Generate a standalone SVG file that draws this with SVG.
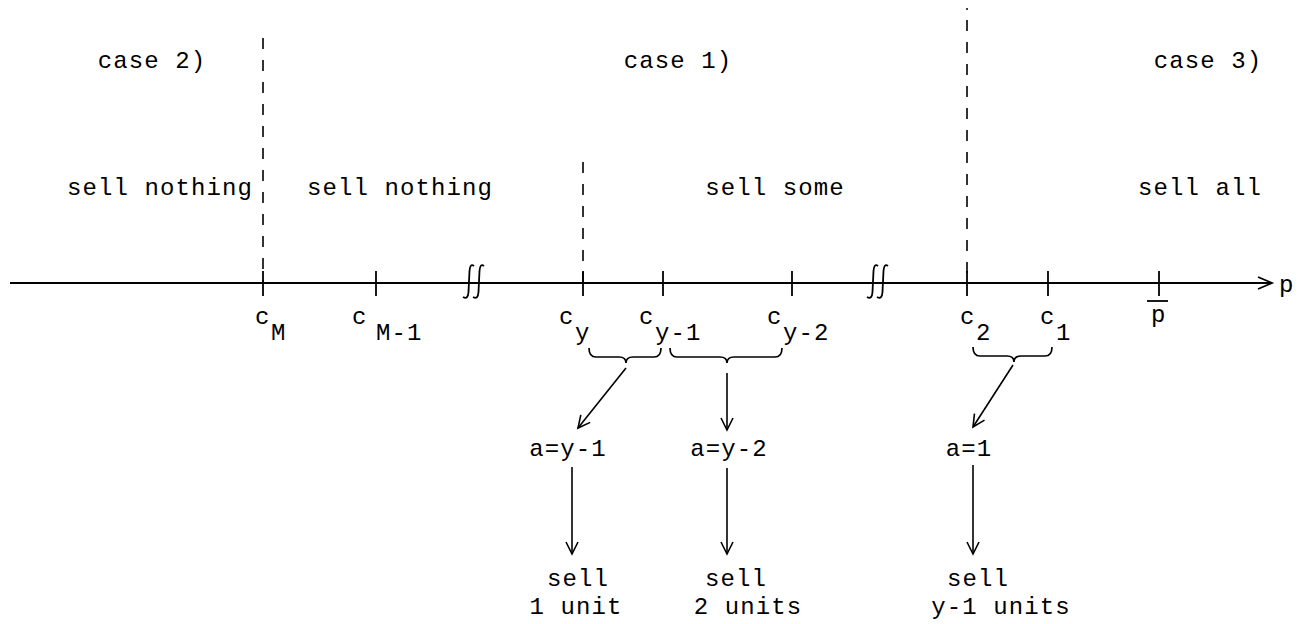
<svg xmlns="http://www.w3.org/2000/svg" width="1302" height="624" viewBox="0 0 1302 624">
<defs>
<style>
text{font-family:"Liberation Mono","DejaVu Sans Mono",monospace;font-size:24px;fill:#000;letter-spacing:1.1px}
.m{text-anchor:middle}
.ln{stroke:#000;stroke-width:1.8;fill:none}
.dash{stroke:#000;stroke-width:1.6;stroke-dasharray:11 11;fill:none}
.brace{stroke:#000;stroke-width:1.7;fill:none}
.arr{stroke:#000;stroke-width:1.6;fill:none;marker-end:url(#ah)}
</style>
<marker id="ah" markerUnits="userSpaceOnUse" markerWidth="16" markerHeight="16" refX="13" refY="7" orient="auto" viewBox="0 0 16 14">
<path d="M1,1 L13,7 L1,13" fill="none" stroke="#000" stroke-width="1.6"/>
</marker>
</defs>
<rect width="1302" height="624" fill="#fff"/>

<g id="dividers">
<line class="dash" x1="263" y1="38" x2="263" y2="283"/>
<line class="dash" x1="583" y1="162" x2="583" y2="283"/>
<line class="dash" x1="967" y1="20" x2="967" y2="283"/>
<circle cx="967" cy="9" r="1" fill="#000"/>
</g>

<g id="axis">
<line class="ln" x1="10" y1="283" x2="1272" y2="283"/>
<path class="ln" d="M1258,277 L1272,283 L1258,289"/>
<g id="ticks">
<line class="ln" x1="263" y1="271" x2="263" y2="296"/>
<line class="ln" x1="376" y1="271" x2="376" y2="296"/>
<line class="ln" x1="583" y1="271" x2="583" y2="296"/>
<line class="ln" x1="663" y1="271" x2="663" y2="296"/>
<line class="ln" x1="792" y1="271" x2="792" y2="296"/>
<line class="ln" x1="967" y1="271" x2="967" y2="296"/>
<line class="ln" x1="1048" y1="271" x2="1048" y2="296"/>
<line class="ln" x1="1159" y1="271" x2="1159" y2="296"/>
</g>
<g id="breaks">
<path class="ln" d="M474,266 Q470,263 469.5,271 L468.5,292 Q468,300 463,297"/>
<path class="ln" d="M484,266 Q480,263 479.5,271 L478.5,292 Q478,300 473,297"/>
<path class="ln" d="M878,266 Q874,263 873.5,271 L872.5,292 Q872,300 867,297"/>
<path class="ln" d="M888,266 Q884,263 883.5,271 L882.5,292 Q882,300 877,297"/>
</g>
<text id="axis-label" x="1279" y="292">p</text>
</g>

<g id="case2"><text class="m" x="152" y="68">case 2)</text></g>
<g id="case1"><text class="m" x="678" y="68">case 1)</text></g>
<g id="case3"><text class="m" x="1208" y="68">case 3)</text></g>
<g id="region-nothing-2"><text class="m" x="160" y="195">sell nothing</text></g>
<g id="region-nothing-1"><text class="m" x="400" y="195">sell nothing</text></g>
<g id="region-some"><text class="m" x="775" y="195">sell some</text></g>
<g id="region-all"><text class="m" x="1200" y="195">sell all</text></g>

<g id="tick-labels">
<g id="cM"><text x="255" y="324">c</text><text x="271" y="340">M</text></g>
<g id="cM-1"><text x="352" y="324">c</text><text x="376" y="340">M-1</text></g>
<g id="cy"><text x="559" y="324">c</text><text x="575" y="340">y</text></g>
<g id="cy-1"><text x="639" y="324">c</text><text x="655" y="340">y-1</text></g>
<g id="cy-2"><text x="767" y="324">c</text><text x="783" y="340">y-2</text></g>
<g id="c2"><text x="960" y="324">c</text><text x="976" y="340">2</text></g>
<g id="c1"><text x="1040" y="324">c</text><text x="1056" y="340">1</text></g>
<g id="pbar"><text x="1151" y="322">p</text><line class="ln" x1="1147" y1="301" x2="1168" y2="301"/></g>
</g>

<g id="braces">
<path class="brace" d="M589,348 Q589,357 596,357 L619,357 Q626,357 626,363 Q626,357 633,357 L654,357 Q661,357 661,348"/>
<path class="brace" d="M670,348 Q670,357 677,357 L720,357 Q727,357 727,363 Q727,357 734,357 L775,357 Q782,357 782,348"/>
<path class="brace" d="M973,347 Q973,356 980,356 L1007,356 Q1014,356 1014,362 Q1014,356 1021,356 L1045,356 Q1052,356 1052,347"/>
</g>

<g id="a-y-1"><text class="m" x="568" y="456">a=y-1</text></g>
<g id="a-y-2"><text class="m" x="729" y="456">a=y-2</text></g>
<g id="a-1"><text class="m" x="969" y="456">a=1</text></g>

<g id="out-1"><text class="m" x="578" y="586">sell</text><text class="m" x="576" y="614">1 unit</text></g>
<g id="out-2"><text class="m" x="736" y="586">sell</text><text class="m" x="748" y="614">2 units</text></g>
<g id="out-3"><text class="m" x="978" y="586">sell</text><text class="m" x="1001" y="614">y-1 units</text></g>

<g id="connectors">
<line class="arr" x1="626" y1="368" x2="578" y2="428"/>
<line class="arr" x1="727" y1="373" x2="727" y2="430"/>
<line class="arr" x1="1013" y1="365" x2="973" y2="427"/>
<line class="arr" x1="572" y1="467" x2="572" y2="554"/>
<line class="arr" x1="727" y1="468" x2="727" y2="554"/>
<line class="arr" x1="973" y1="465" x2="973" y2="554"/>
</g>
</svg>
